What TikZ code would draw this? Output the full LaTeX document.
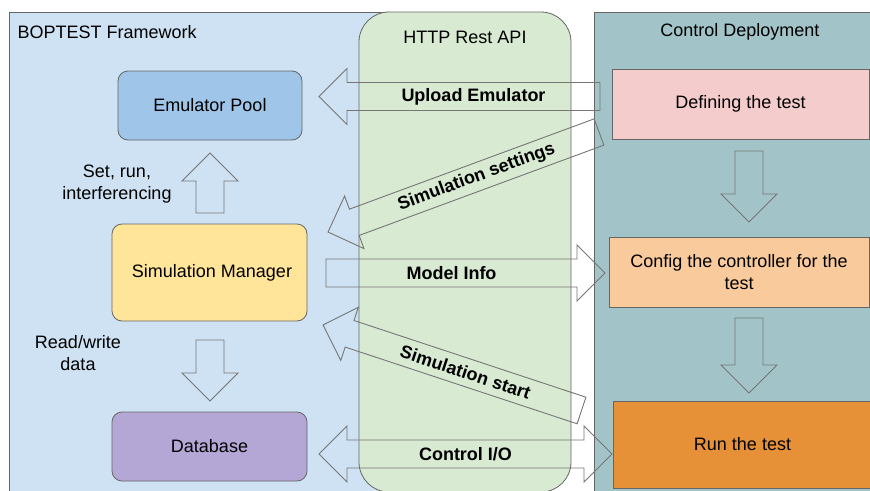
\documentclass[tikz,border=0pt]{standalone}
\usepackage{fontspec}
\setmainfont{Liberation Sans}
\usetikzlibrary{calc}
\definecolor{bopcol}{HTML}{CFE2F3}
\definecolor{apicol}{HTML}{D9EAD3}
\definecolor{ctrlcol}{HTML}{A2C4C9}
\definecolor{emucol}{HTML}{9FC5E8}
\definecolor{simcol}{HTML}{FFE599}
\definecolor{dbcol}{HTML}{B4A7D6}
\definecolor{defcol}{HTML}{F4CCCC}
\definecolor{cfgcol}{HTML}{F9CB9C}
\definecolor{runcol}{HTML}{E69138}
\definecolor{edgecol}{HTML}{666666}
% outline block arrow from tail #2 to tip #3, label #1 on the shaft
\newcommand{\blockarrow}[3][]{%
  \coordinate (#2-h) at ($(#3)!28pt!(#2)$);
  \draw[block arrow] ($(#2)!14pt!90:(#3)$) -- ($(#2-h)!14pt!90:(#3)$) -- ($(#2-h)!28pt!90:(#3)$) -- (#3)
    -- ($(#2-h)!28pt!-90:(#3)$) -- ($(#2-h)!14pt!-90:(#3)$) -- ($(#2)!14pt!-90:(#3)$) -- cycle;
  \path (#2) -- (#2-h) node[midway,sloped,arrow label] {#1};
}
% outline block arrow with two heads
\newcommand{\twoblockarrow}[3][]{%
  \coordinate (#2-h) at ($(#2)!28pt!(#3)$);
  \coordinate (#3-h) at ($(#3)!28pt!(#2)$);
  \draw[block arrow] (#2) -- ($(#2-h)!28pt!90:(#3)$) -- ($(#2-h)!14pt!90:(#3)$) -- ($(#3-h)!14pt!-90:(#2)$)
    -- ($(#3-h)!28pt!-90:(#2)$) -- (#3) -- ($(#3-h)!28pt!90:(#2)$) -- ($(#3-h)!14pt!90:(#2)$)
    -- ($(#2-h)!14pt!-90:(#3)$) -- ($(#2-h)!28pt!-90:(#3)$) -- cycle;
  \path (#2) -- (#3) node[midway,sloped,arrow label] {#1};
}
\begin{document}
\begin{tikzpicture}[x=1pt,y=-1pt,font=\fontsize{18}{21.6}\selectfont,
  panel/.style={draw=edgecol,line width=0.8pt},
  left box/.style={draw=edgecol,line width=0.8pt,rounded corners=10pt,minimum height=69pt,align=center},
  right box/.style={draw=edgecol,line width=0.8pt,minimum height=70pt,align=center},
  block arrow/.style={draw=edgecol!90,line width=0.9pt,line join=miter},
  arrow label/.style={font=\fontsize{18}{21.6}\selectfont\bfseries,inner sep=0pt}]
\clip (0,0) rectangle (870,490);
\fill[white] (0,0) rectangle (870,490);
% panels
\draw[panel,fill=bopcol] (9,12) rectangle (450,500);
\draw[panel,fill=ctrlcol] (594,12) rectangle (880,500);
\draw[panel,fill=apicol,rounded corners=30pt] (359,12) rectangle (571,492);
\node[anchor=west] (boptitle) at (14,32) {BOPTEST Framework};
\node (apititle) at (465,37) {HTTP Rest API};
\node (ctrltitle) at (740,32) {Control Deployment};
% boxes
\node[left box,fill=emucol,minimum width=184pt] (emu) at (210,105.5) {Emulator Pool};%emulator
\node[left box,fill=simcol,minimum width=195pt,minimum height=97pt] (sim) at (209.5,272.5) {\hspace{5pt}Simulation Manager};%manager
\node[left box,fill=dbcol,minimum width=195pt] (db) at (209.5,446.5) {Database};%database
\node[right box,fill=defcol,minimum width=257pt] (def) at (740.5,104) {Defining the test};
\node[right box,fill=cfgcol,minimum width=260pt] (cfg) at (739,272) {Config the controller for the\\test};
\node[right box,fill=runcol,minimum width=259pt,minimum height=87pt] (run) at (742.5,444.5) {Run the test};
\node[align=center] (setlabel) at (117,184) {Set, run,\\interferencing};
\node[align=center] (rwlabel) at (78,353) {Read/write\\data};
% arrow ends
\coordinate (set) at (210,213);   \coordinate (set-tip) at (210,153);
\coordinate (rw) at (210,340);    \coordinate (rw-tip) at (210,401);
\coordinate (d1) at (749,151);    \coordinate (d1-tip) at (749,222);
\coordinate (d2) at (749,318);    \coordinate (d2-tip) at (749,393);
\coordinate (upload) at (600,96.5);    \coordinate (upload-tip) at (319,96.5);
\coordinate (settings) at (599,132); \coordinate (settings-tip) at (328,232);
\coordinate (model) at (326,273);     \coordinate (model-tip) at (605,273);
\coordinate (start) at (581.5,410.5); \coordinate (start-tip) at (323,325);
\coordinate (io) at (319,454);        \coordinate (io-tip) at (612,454);
% block arrows
\blockarrow{set}{set-tip}
\blockarrow{rw}{rw-tip}
\blockarrow{d1}{d1-tip}
\blockarrow{d2}{d2-tip}
\blockarrow[Upload Emulator]{upload}{upload-tip}
\blockarrow[Simulation settings]{settings}{settings-tip}
\blockarrow[Model Info]{model}{model-tip}
\blockarrow[Simulation start]{start}{start-tip}
\twoblockarrow[Control I/O]{io}{io-tip}
\end{tikzpicture}
\end{document}
